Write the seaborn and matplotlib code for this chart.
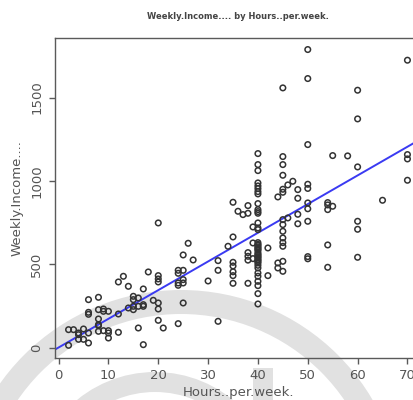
import numpy as np
import pandas as pd
import matplotlib
matplotlib.use("Agg")
import matplotlib.pyplot as plt
from matplotlib.patches import Wedge, Rectangle
import seaborn as sns

# ---- data ----
hours = [2, 2, 3, 4, 4, 4, 5, 5, 6, 6, 6, 6, 6,
         8, 8, 8, 8, 8, 8, 9, 9, 9, 10, 10, 10, 10,
         12, 12, 12, 13, 14, 14, 15, 15, 15, 15, 16, 16, 16,
         17, 17, 17, 17, 18, 19, 20, 20, 20, 20, 20, 20, 20, 21,
         24, 24, 24, 24, 24, 25, 25, 25, 25, 25, 26, 27, 30,
         32, 32, 32, 34, 35, 35, 35, 35, 35, 35, 35,
         36, 37, 38, 38, 38, 38, 38, 38, 39, 39, 39,
         40, 40, 40, 40, 40, 40, 40, 40, 40, 40, 40, 40, 40, 40, 40, 40,
         40, 40, 40, 40, 40, 40, 40, 40, 40, 40, 40, 40, 40, 40, 40, 40,
         40, 40, 40, 40, 40, 40, 40,
         42, 42, 44, 44, 44,
         45, 45, 45, 45, 45, 45, 45, 45, 45, 45, 45, 45, 45, 45,
         46, 46, 47, 48, 48, 48, 48,
         50, 50, 50, 50, 50, 50, 50, 50, 50, 50,
         54, 54, 54, 54, 54, 55, 55, 58,
         60, 60, 60, 60, 60, 60, 65, 70, 70, 70, 70]
income = [14, 108, 108, 88, 78, 50, 50, 112, 88, 28, 288, 212, 200,
          302, 228, 172, 138, 132, 98, 232, 218, 102, 218, 102, 88, 58,
          202, 92, 394, 428, 368, 238, 308, 288, 248, 228, 298, 248, 118,
          352, 258, 248, 18, 454, 284, 748, 432, 412, 394, 268, 232, 164, 118,
          464, 446, 388, 374, 144, 464, 408, 388, 556, 268, 626, 526, 400,
          522, 464, 158, 608, 872, 664, 512, 490, 455, 432, 386,
          818, 798, 806, 852, 570, 548, 525, 386, 724, 628, 534,
          1164, 1098, 1062, 988, 970, 954, 936, 922, 864, 828, 816, 806,
          748, 718, 708, 630, 620, 614, 605, 598, 590, 584, 570, 560, 554,
          545, 540, 530, 524, 516, 508, 494, 478, 448, 428, 398, 372, 324, 262,
          598, 432, 904, 508, 478,
          1558, 1146, 1098, 1034, 950, 932, 768, 738, 698, 658, 630, 608, 518, 458,
          976, 778, 998, 948, 896, 800, 743,
          1788, 1614, 1218, 980, 955, 868, 833, 758, 546, 533,
          870, 856, 828, 616, 482, 1152, 848, 1150,
          1544, 1372, 1084, 758, 710, 542, 884, 1724, 1158, 1132, 1004]

fit_intercept = 1.0
fit_slope = 17.2

x_ticks = [0, 10, 20, 30, 40, 50, 60, 70]
y_ticks = [0, 500, 1000, 1500]

title = "Weekly.Income.... by Hours..per.week."
x_label = "Hours..per.week."
y_label = "Weekly.Income...."

df = pd.DataFrame({"Hours..per.week.": hours, "Weekly.Income....": income})

sns.set_theme(style="white")
plt.rcParams["font.family"] = ["DejaVu Sans"]

W, H = 414, 400
fig = plt.figure(figsize=(W / 100, H / 100), dpi=100, facecolor="white")

# ---- background watermark (pixel coordinates, y upward) ----
bg = fig.add_axes([0, 0, 1, 1], zorder=0)
bg.set_xlim(0, W)
bg.set_ylim(0, H)
bg.axis("off")
wm = "#e1e1e1"
bg.add_patch(Wedge((181, H - 512), 222, 0, 180, width=24, color=wm, lw=0))
bg.add_patch(Wedge((155, H - 495), 123, 0, 180, width=20, color=wm, lw=0))
bg.add_patch(Rectangle((253, 0), 20, H - 368, color=wm, lw=0))

# ---- main axes ----
left_px, right_px, top_px, bottom_px = 55, 421, 37.7, 357.5
ax = fig.add_axes([left_px / W, (H - bottom_px) / H,
                   (right_px - left_px) / W, (bottom_px - top_px) / H], zorder=1)
ax.set_facecolor("none")

sns.scatterplot(data=df, x="Hours..per.week.", y="Weekly.Income....", ax=ax,
                marker="o", s=16, facecolors="none", edgecolor="#333333",
                linewidth=1.1, zorder=3)
ax.axline((0, fit_intercept), slope=fit_slope, color="#3a3af2", lw=1.4, zorder=2)

ax.set_xlim(-0.72, 72.72)
ax.set_ylim(-59, 1859)
ax.set_xticks(x_ticks)
ax.set_yticks(y_ticks)
ax.set_yticklabels([str(v) for v in y_ticks], rotation=90, va="center")

axis_col = "#5a5a5a"
text_col = "#555555"
for side in ["left", "bottom", "top", "right"]:
    ax.spines[side].set_visible(True)
    ax.spines[side].set_color(axis_col)
    ax.spines[side].set_linewidth(1.0)
ax.tick_params(axis="both", which="major", direction="out", length=4.5,
               width=1.0, color=axis_col, labelcolor=text_col, labelsize=9.5,
               pad=4, bottom=True, left=True)

ax.set_xlabel(x_label, fontsize=9.5, color=text_col, labelpad=3)
ax.set_ylabel(y_label, fontsize=9.5, color=text_col, labelpad=5)
ax.set_title(title, fontsize=6, fontweight="bold", color="#444444", pad=13.5)

fig.savefig("out.png", dpi=100, facecolor="white")
